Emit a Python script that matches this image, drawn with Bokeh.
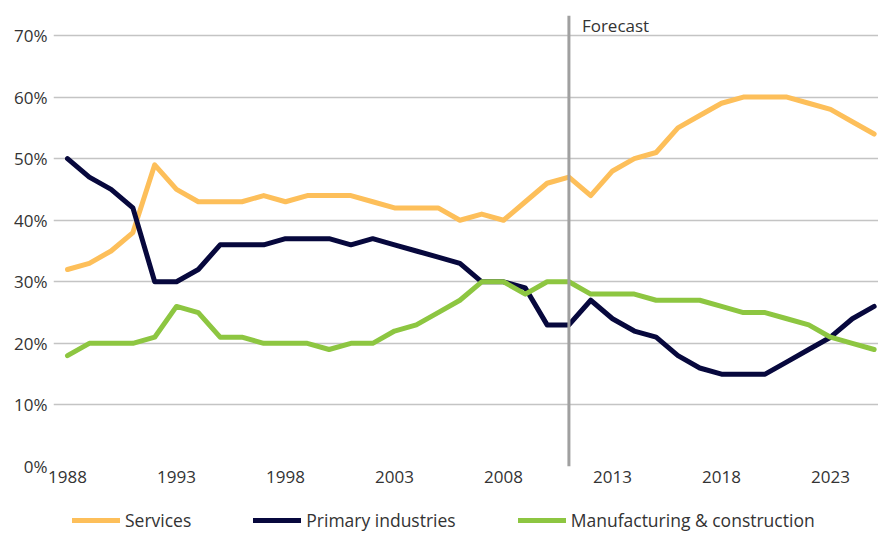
from bokeh.plotting import figure
from bokeh.layouts import column
from bokeh.models import Range1d, FixedTicker, Span, Label, Legend, LegendItem, CustomJSTickFormatter
from bokeh.embed import file_html
from bokeh.resources import INLINE

years = list(range(1988, 2026))
services = [32, 33, 35, 38, 49, 45, 43, 43, 43, 44, 43, 44, 44, 44, 43, 42, 42, 42, 40, 41,
            40, 43, 46, 47, 44, 48, 50, 51, 55, 57, 59, 60, 60, 60, 59, 58, 56, 54]
primary = [50, 47, 45, 42, 30, 30, 32, 36, 36, 36, 37, 37, 37, 36, 37, 36, 35, 34, 33, 30,
           30, 29, 23, 23, 27, 24, 22, 21, 18, 16, 15, 15, 15, 17, 19, 21, 24, 26]
manufacturing = [18, 20, 20, 20, 21, 26, 25, 21, 21, 20, 20, 20, 19, 20, 20, 22, 23, 25, 27, 30,
                 30, 28, 30, 30, 28, 28, 28, 27, 27, 27, 26, 25, 25, 24, 23, 21, 20, 19]
series_names = ["Services", "Primary industries", "Manufacturing & construction"]
x_ticks = [1988, 1993, 1998, 2003, 2008, 2013, 2018, 2023]
y_ticks = [0, 10, 20, 30, 40, 50, 60, 70]
forecast_year = 2011
forecast_label = "Forecast"

colors = ["#FDBF5A", "#07083D", "#8DC641"]
FONT = "Open Sans"
TXT = "#333333"
FS = "17px"

p = figure(width=878, height=497, output_backend="svg", toolbar_location=None,
           x_range=Range1d(1987.358, 2025.2), y_range=Range1d(0, 73.25),
           min_border_left=53, min_border_right=0, min_border_top=15, min_border_bottom=31)
p.outline_line_color = None
p.background_fill_color = "white"

p.xgrid.visible = False
p.ygrid.ticker = FixedTicker(ticks=y_ticks)
p.ygrid.grid_line_color = "#c4c4c4"
p.ygrid.grid_line_width = 1.5

for ax in (p.xaxis, p.yaxis):
    ax.axis_line_color = None
    ax.major_tick_line_color = None
    ax.minor_tick_line_color = None
    ax.major_tick_out = 0
    ax.major_tick_in = 0
    ax.major_label_text_font = FONT
    ax.major_label_text_font_size = FS
    ax.major_label_text_color = TXT

p.xaxis.ticker = FixedTicker(ticks=x_ticks)
p.xaxis.major_label_standoff = 4
p.yaxis.ticker = FixedTicker(ticks=y_ticks)
p.yaxis.major_label_standoff = 6
p.yaxis.formatter = CustomJSTickFormatter(code="return tick + '%';")

p.add_layout(Span(location=forecast_year, dimension="height", line_color="#a0a0a0", line_width=3))
p.add_layout(Label(x=forecast_year, y=73.25, text=forecast_label, x_offset=13, y_offset=-9.5,
                   text_baseline="middle", text_font=FONT, text_font_size=FS, text_color=TXT))

for vals, c in zip([services, primary, manufacturing], colors):
    p.line(years, vals, line_color=c, line_width=5, line_join="round", line_cap="round")

# legend strip below the chart (proxy renderers hold no visible data)
lg = figure(width=878, height=36, output_backend="svg", toolbar_location=None,
            x_range=Range1d(0, 825), y_range=Range1d(0, 36), min_border=0,
            min_border_left=53, x_axis_type=None, y_axis_type=None)
lg.outline_line_color = None
lg.grid.visible = False
items = []
nan = float("nan")
for n, c in zip(series_names, colors):
    r = lg.line(x=[nan], y=[nan], line_color=c, line_width=5, line_cap="round")
    items.append(LegendItem(label=n, renderers=[r]))
legend = Legend(items=items, orientation="horizontal", location=(19, 1), padding=0, margin=0,
                spacing=62, glyph_width=48, glyph_height=22, label_standoff=5, label_height=22,
                label_text_font=FONT, label_text_font_size="17.5px", label_text_color=TXT,
                border_line_color=None, background_fill_alpha=0)
lg.add_layout(legend, "center")

open("out.html", "w").write(file_html(column(p, lg, spacing=0), INLINE))
